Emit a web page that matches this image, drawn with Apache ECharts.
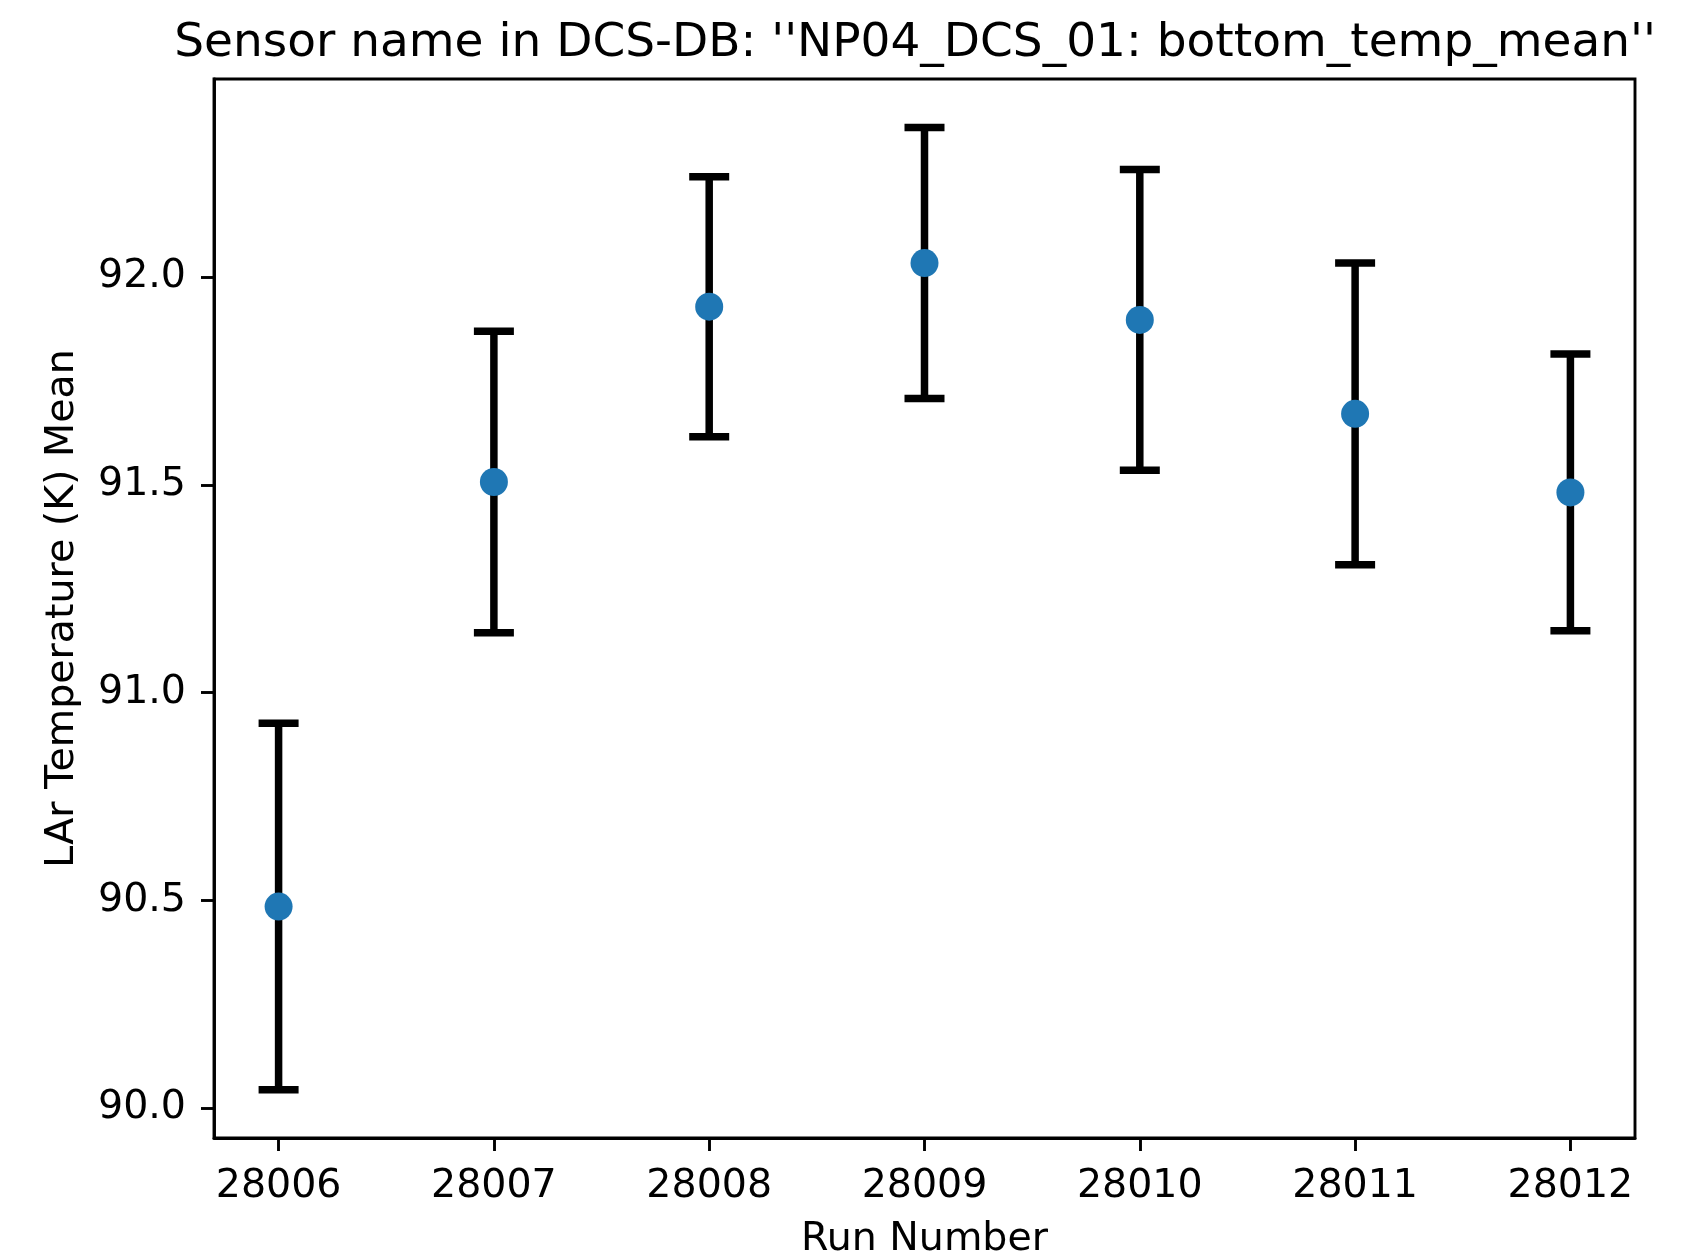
<!DOCTYPE html>
<html>
<head>
<meta charset="utf-8">
<script src="https://cdn.jsdelivr.net/npm/echarts@6/dist/echarts.min.js"></script>
<style>html,body{margin:0;padding:0;background:#fff}#c{width:1691px;height:1260px}</style>
</head>
<body>
<div id="c"></div>
<script>
const runs = [28006, 28007, 28008, 28009, 28010, 28011, 28012];
const means = [90.485, 91.507, 91.929, 92.034, 91.897, 91.671, 91.482];
const errs = [0.441, 0.363, 0.313, 0.326, 0.362, 0.363, 0.333];
const yTicks = [90.0, 90.5, 91.0, 91.5, 92.0];
const titleText = "Sensor name in DCS-DB: ''NP04_DCS_01: bottom_temp_mean''";

const font = "DejaVu Sans";
const fs = 39.5;
const chart = echarts.init(document.getElementById('c'), null, {renderer: 'canvas'});
const errData = runs.map((r, i) => [r, means[i] - errs[i], means[i] + errs[i]]);
const ptData = runs.map((r, i) => [r, means[i]]);

chart.setOption({
  animation: false,
  backgroundColor: '#fff',
  title: {
    text: titleText, left: 910, textAlign: 'center', top: 15,
    textStyle: {fontFamily: font, fontSize: 47, fontWeight: 'normal', color: '#000'}
  },
  grid: {left: 214, right: 56, top: 79, bottom: 122, outerBoundsMode: 'none', containLabel: false,
         show: true, borderColor: '#000', borderWidth: 2.9, backgroundColor: 'transparent'},
  xAxis: {
    type: 'value', min: 28005.7, max: 28012.3,
    name: 'Run Number', nameLocation: 'middle', nameGap: 82,
    nameTextStyle: {fontFamily: font, fontSize: fs, color: '#000'},
    axisLine: {show: true, onZero: false, lineStyle: {color: '#000', width: 2.9}},
    axisTick: {show: true, length: 13, lineStyle: {color: '#000', width: 2.9}, customValues: runs},
    axisLabel: {fontFamily: font, fontSize: fs, color: '#000', margin: 29, customValues: runs, formatter: v => String(Math.round(v))},
    splitLine: {show: false}
  },
  yAxis: {
    type: 'value', min: 89.928, max: 92.477,
    name: 'LAr Temperature (K) Mean', nameLocation: 'middle', nameGap: 131, nameRotate: 90,
    nameTextStyle: {fontFamily: font, fontSize: fs, color: '#000'},
    axisLine: {show: true, onZero: false, lineStyle: {color: '#000', width: 2.9}},
    axisTick: {show: true, length: 13, lineStyle: {color: '#000', width: 2.9}, customValues: yTicks},
    axisLabel: {fontFamily: font, fontSize: fs, color: '#000', margin: 28, customValues: yTicks, formatter: v => v.toFixed(1)},
    splitLine: {show: false}
  },
  series: [
    {
      type: 'custom',
      data: errData,
      z: 2,
      renderItem: function (params, api) {
        const x = api.value(0);
        const lo = api.coord([x, api.value(1)]);
        const hi = api.coord([x, api.value(2)]);
        const half = 20;
        const st = {stroke: '#000', lineWidth: 7.5};
        return {
          type: 'group',
          children: [
            {type: 'line', shape: {x1: lo[0], y1: lo[1], x2: hi[0], y2: hi[1]}, style: st},
            {type: 'line', shape: {x1: lo[0] - half, y1: lo[1], x2: lo[0] + half, y2: lo[1]}, style: st},
            {type: 'line', shape: {x1: hi[0] - half, y1: hi[1], x2: hi[0] + half, y2: hi[1]}, style: st}
          ]
        };
      }
    },
    {
      type: 'scatter',
      data: ptData,
      symbol: 'circle',
      symbolSize: 28,
      z: 3,
      itemStyle: {color: '#1f77b4', opacity: 1}
    }
  ]
});
</script>
</body>
</html>
